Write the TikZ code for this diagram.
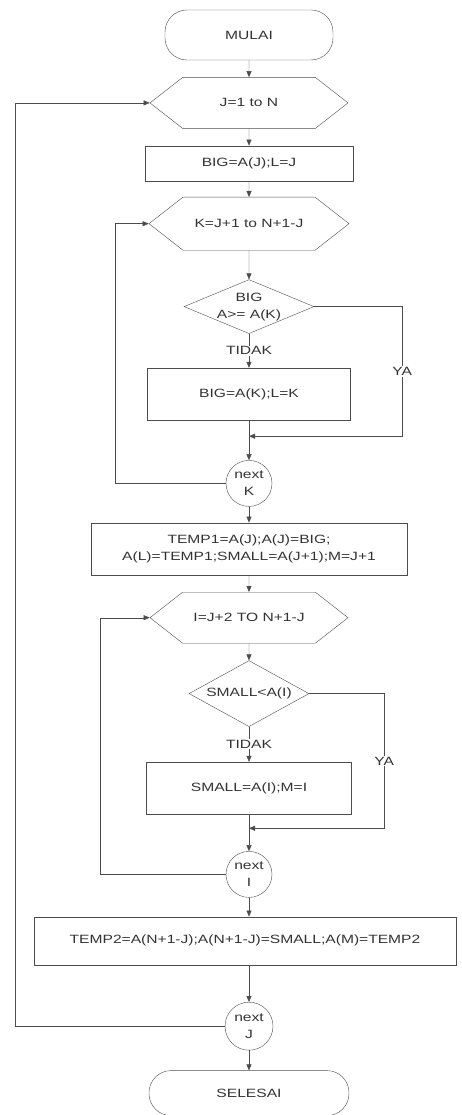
\documentclass[tikz,border=0pt]{standalone}
\usepackage{fontspec}
\newfontfamily\flowfont{Liberation Sans}[FakeStretch=1.3]
\usepackage{tikz}
\usetikzlibrary{arrows.meta,positioning,shapes.geometric,shapes.symbols}

\newcommand{\zw}[1]{\makebox[0pt]{#1}}

\begin{document}
\begin{tikzpicture}[x=1pt,y=-1pt,
  base/.style={draw=black!70,text=black!80,inner sep=0pt,align=center,
    font=\flowfont\fontsize{12}{17}\selectfont},
  term/.style={base,rounded corners=22pt,minimum height=#1},
  proc/.style={base,rectangle,minimum height=#1},
  hexa/.style={base,signal,signal to=west and east,signal pointer angle=76,
    minimum height=#1},
  decide/.style={base,diamond,minimum height=#1},
  conn/.style={base,circle,minimum size=#1},
  flow/.style={-{Triangle[length=6pt,width=5pt]},draw=black!70},
  lbl/.style={text=black!80,fill=white,inner sep=1pt,
    font=\flowfont\fontsize{12}{17}\selectfont}
]
\useasboundingbox (0,0) rectangle (461,1115);
% main column
\node[term=50pt,minimum width=168pt] (mulai) at (249,35) {MULAI};
\node[hexa=51pt,minimum width=198pt,below=17pt of mulai] (loopj) {J=1 to N};
\node[proc=35pt,minimum width=208pt,below=17pt of loopj] (bigj) {BIG=A(J);L=J};
\node[hexa=53pt,minimum width=200pt,below=16pt of bigj] (loopk) {K=J+1 to N+1-J};
\node[decide=54pt,minimum width=130pt,below=29pt of loopk] (cekbig)
  {\zw{BIG}\\\zw{A>= A(K)}};
\node[proc=52pt,minimum width=203pt,below=34pt of cekbig] (bigk) {BIG=A(K);L=K};
\node[conn=46pt,below=40pt of bigk] (nextk) {next\\K};
\node[proc=52pt,minimum width=316pt,below=16pt of nextk] (temp1)
  {TEMP1=A(J);A(J)=BIG;\\A(L)=TEMP1;SMALL=A(J+1);M=J+1};
\node[hexa=51pt,minimum width=198pt,below=17pt of temp1] (loopi) {I=J+2 TO N+1-J};
\node[decide=66pt,minimum width=120pt,below=17pt of loopi] (ceksmall)
  {\zw{SMALL<A(I)}};
\node[proc=52pt,minimum width=205pt,below=35pt of ceksmall] (smalli) {SMALL=A(I);M=I};
\node[conn=46pt,below=37pt of smalli] (nexti) {next\\I};
\node[proc=48pt,minimum width=422pt,below=19pt of nexti,xshift=-4pt] (temp2)
  {TEMP2=A(N+1-J);A(N+1-J)=SMALL;A(M)=TEMP2};
\node[conn=48pt,below=37pt of nexti|-temp2.south] (nextj) {next\\J};
\node[term=45pt,minimum width=200pt,below=20pt of nextj] (selesai) {SELESAI};

% junction points
\path (bigk.south) -- (nextk.north) coordinate[pos=0.4] (jk);
\path (smalli.south) -- (nexti.north) coordinate[pos=0.38] (ji);

% straight flow
\draw[flow] (mulai)--(loopj);
\draw[flow] (loopj)--(bigj);
\draw[flow] (bigj)--(loopk);
\draw[flow] (loopk)--(cekbig);
\draw[flow] (cekbig)-- node[lbl]{TIDAK} (bigk);
\draw[flow] (bigk.south)--(nextk.north);
\draw[flow] (nextk)--(temp1);
\draw[flow] (temp1)--(loopi);
\draw[flow] (loopi)--(ceksmall);
\draw[flow] (ceksmall)-- node[lbl]{TIDAK} (smalli);
\draw[flow] (smalli.south)--(nexti.north);
\draw[flow] (nexti)--(nexti|-temp2.north);
\draw[flow] (nextj|-temp2.south)--(nextj);
\draw[flow] (nextj)--(selesai);

% YA branches
\draw[flow] (cekbig.east) -- ++(88,0) |- node[lbl,pos=0.25]{YA} (jk);
\draw[flow] (ceksmall.east) -- ++(75,0) |- node[lbl,pos=0.25]{YA} (ji);

% loop backs
\draw[flow] (nextk.west) -- ++(-111,0) |- (loopk.west);
\draw[flow] (nexti.west) -- ++(-126,0) |- (loopi.west);
\draw[flow] (nextj.west) -- ++(-210,0) |- (loopj.west);
\end{tikzpicture}
\end{document}
